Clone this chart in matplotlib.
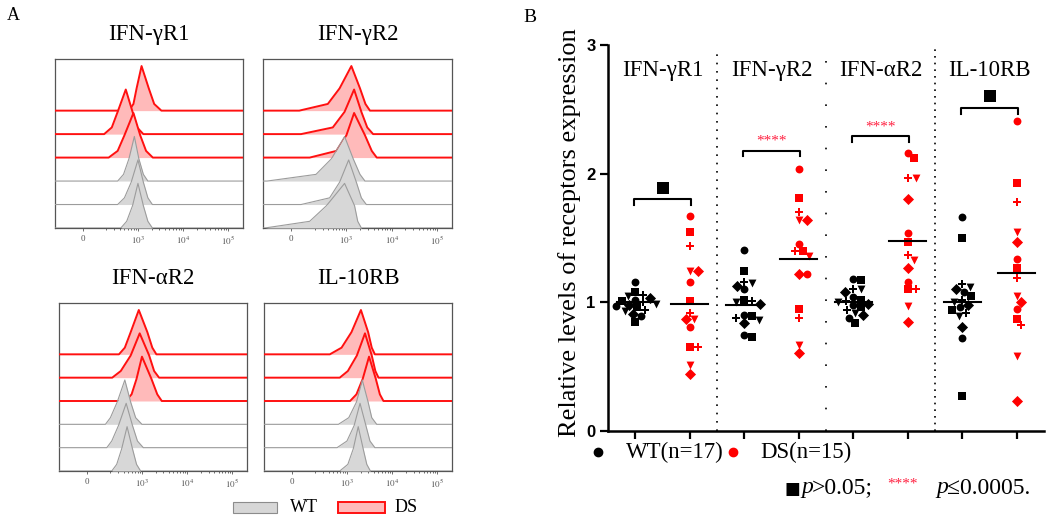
import numpy as np
import matplotlib.pyplot as plt
from matplotlib.patches import Rectangle

plt.rcParams['font.family'] = ['Liberation Serif', 'DejaVu Serif']
plt.rcParams['mathtext.fontset'] = 'stix'

# ---------------- panel A : stacked flow histograms ----------------
hist_titles = ['IFN-γR1', 'IFN-γR2', 'IFN-αR2', 'IL-10RB']
# knot heights (fraction of mode) shared by every curve
knot_h = [0, 0.15, 0.5, 1.0, 0.5, 0.15, 0]
# knot positions in decades, curves listed bottom -> top (WT, WT, WT, DS, DS, DS)
knots_gr1 = [[2.62, 2.75, 2.88, 3.00, 3.12, 3.22, 3.32],
             [2.55, 2.70, 2.85, 3.00, 3.12, 3.22, 3.32],
             [2.55, 2.68, 2.80, 2.92, 3.02, 3.12, 3.22],
             [2.35, 2.55, 2.70, 2.90, 3.05, 3.18, 3.33],
             [2.25, 2.42, 2.55, 2.73, 2.88, 2.98, 3.12],
             [2.80, 2.90, 2.97, 3.08, 3.24, 3.36, 3.52]]
knots_gr2 = [[1.20, 2.19, 2.56, 2.96, 3.18, 3.25, 3.33],
             [2.00, 2.63, 2.85, 3.05, 3.22, 3.33, 3.44],
             [1.25, 2.33, 2.67, 2.96, 3.15, 3.30, 3.41],
             [2.19, 2.78, 3.00, 3.17, 3.41, 3.56, 3.67],
             [2.00, 2.70, 2.96, 3.17, 3.33, 3.46, 3.59],
             [1.96, 2.59, 2.85, 3.11, 3.30, 3.42, 3.52]]
knots_ar2 = [[2.33, 2.44, 2.55, 2.67, 2.79, 2.88, 2.97],
             [2.22, 2.33, 2.48, 2.65, 2.79, 2.90, 3.03],
             [2.19, 2.30, 2.45, 2.62, 2.75, 2.86, 3.00],
             [2.64, 2.77, 2.88, 3.00, 3.21, 3.34, 3.44],
             [2.34, 2.53, 2.75, 2.95, 3.16, 3.27, 3.38],
             [2.49, 2.62, 2.75, 2.93, 3.12, 3.23, 3.32]]
knots_10rb = [[2.84, 3.02, 3.14, 3.25, 3.36, 3.44, 3.52],
              [2.78, 3.00, 3.16, 3.29, 3.42, 3.51, 3.62],
              [2.81, 3.04, 3.21, 3.34, 3.47, 3.55, 3.66],
              [3.07, 3.21, 3.35, 3.49, 3.64, 3.73, 3.81],
              [2.84, 3.02, 3.22, 3.40, 3.55, 3.63, 3.70],
              [2.62, 2.88, 3.10, 3.31, 3.47, 3.55, 3.62]]
hist_knots = [knots_gr1, knots_gr2, knots_ar2, knots_10rb]
hist_groups = ['WT', 'WT', 'WT', 'DS', 'DS', 'DS']
hist_ticks = [1.78, 3, 4, 5]
hist_ticklabels = ['0', '$10^3$', '$10^4$', '$10^5$']

# ---------------- panel B : relative receptor levels ----------------
groups = ['IFN-γR1', 'IFN-γR2', 'IFN-αR2', 'IL-10RB']
wt_r1 = [1.16, 1.08, 1.06, 1.05, 1.03, 1.02, 1.01, 1.0, 0.99, 0.98, 0.97, 0.96, 0.94, 0.93, 0.91, 0.89, 0.85]
ds_r1 = [1.67, 1.55, 1.44, 1.24, 1.24, 1.16, 1.01, 0.92, 0.87, 0.87, 0.81, 0.65, 0.65, 0.51, 0.44]
wt_r2 = [1.41, 1.24, 1.16, 1.15, 1.13, 1.10, 1.02, 1.01, 1.0, 0.99, 0.90, 0.89, 0.88, 0.86, 0.84, 0.75, 0.73]
ds_r2 = [2.04, 1.81, 1.70, 1.64, 1.64, 1.45, 1.40, 1.40, 1.36, 1.22, 1.22, 0.95, 0.88, 0.67, 0.61]
wt_ar2 = [1.18, 1.17, 1.10, 1.10, 1.08, 1.04, 1.02, 1.01, 1.0, 0.99, 0.98, 0.96, 0.94, 0.92, 0.90, 0.88, 0.84]
ds_ar2 = [2.16, 2.12, 1.97, 1.97, 1.80, 1.54, 1.47, 1.37, 1.33, 1.27, 1.16, 1.10, 1.10, 0.97, 0.85]
wt_10 = [1.66, 1.50, 1.14, 1.12, 1.10, 1.08, 1.05, 1.02, 1.0, 0.98, 0.96, 0.94, 0.92, 0.89, 0.81, 0.72, 0.27]
ds_10 = [2.41, 1.93, 1.78, 1.55, 1.47, 1.34, 1.27, 1.19, 1.05, 1.0, 0.95, 0.87, 0.82, 0.58, 0.23]
series = [wt_r1, ds_r1, wt_r2, ds_r2, wt_ar2, ds_ar2, wt_10, ds_10]
medians = [1.0, 0.99, 0.98, 1.34, 1.0, 1.48, 1.0, 1.23]
signif = ['ns', '****', '****', 'ns']


def fx(px):
    return px / 1050.0


def fy(py):
    return 1 - py / 520.0


def swarm(vals, gap=7.5, ppx=54.5, ppy=128.7):
    # simple beeswarm: push each point sideways until it does not overlap
    done, offs = [], []
    for v in vals:
        y = v * ppy
        for k in range(200):
            dx = ((k + 1) // 2) * (1 if k % 2 else -1) * 1.0
            if all((dx - a) ** 2 + (y - b) ** 2 >= gap ** 2 for a, b in done):
                break
        done.append((dx, y))
        offs.append(dx / ppx)
    return np.array(offs)


fig = plt.figure(figsize=(10.5, 5.2), dpi=100)

# panel A axes: [left, top, right, bottom] in px
boxes = [(55, 59, 243, 228), (263, 59, 452, 228), (59, 303, 247, 471), (264, 303, 452, 471)]
xmin, xmax = 1.16, 5.33
peak = 1.9
for b, title, knots in zip(boxes, hist_titles, hist_knots):
    ax = fig.add_axes([fx(b[0]), fy(b[3]), fx(b[2] - b[0]), (b[3] - b[1]) / 520.0])
    for i, (kn, g) in enumerate(zip(knots, hist_groups)):
        xs = [xmin] + kn + [xmax]
        ys = np.array([0] + knot_h + [0]) * peak + i
        if g == 'WT':
            fc, ec, lw = '#d7d7d7', '#9c9c9c', 0.8
        else:
            fc, ec, lw = '#ffbaba', '#ff1010', 1.4
        ax.fill_between(xs, i, ys, color=fc, lw=0, zorder=10 - i)
        ax.plot(xs, ys, color=ec, lw=lw, zorder=10.5 - i)
    ax.set_xlim(xmin, xmax)
    ax.set_ylim(0, 7.2)
    ax.set_yticks([])
    ax.set_xticks(hist_ticks)
    ax.set_xticklabels(hist_ticklabels, fontsize=6.5, color='#555555')
    minor = [np.log10(k) + d for d in (2, 3, 4) for k in range(2, 10)]
    ax.set_xticks([m for m in minor if 2.2 < m < xmax], minor=True)
    ax.tick_params(axis='x', which='both', direction='out', length=2, width=0.6,
                   colors='#555555', pad=3)
    ax.tick_params(axis='x', which='minor', length=1.5)
    for s in ax.spines.values():
        s.set_color('#555555')
        s.set_linewidth(0.9)
    ax.set_title(title, fontsize=16.5, pad=14)

# legend for A
fig.add_artist(Rectangle((fx(233), fy(513)), fx(44), 11 / 520.0, transform=fig.transFigure,
                         facecolor='#d7d7d7', edgecolor='#8c8c8c', lw=0.8))
fig.text(fx(290), fy(507), 'WT', fontsize=13, va='center')
fig.add_artist(Rectangle((fx(338), fy(513)), fx(47), 11 / 520.0, transform=fig.transFigure,
                         facecolor='#ffbaba', edgecolor='#ff1010', lw=1.4))
fig.text(fx(395), fy(507), 'DS', fontsize=13, va='center')

fig.text(fx(7), fy(16), 'A', fontsize=13, va='center')
fig.text(fx(523), fy(18), 'B', fontsize=14, va='center')

# ---------------- panel B ----------------
axb = fig.add_axes([fx(608), fy(431), fx(436), 386 / 520.0])
pos = np.arange(1, 9)
mk_cycle = ['o', 's', 'P', 'v', 'D']
for p, vals, med in zip(pos, series, medians):
    col = 'black' if p % 2 else '#ff0000'
    offs = swarm(vals)
    for j, (o, v) in enumerate(zip(offs, vals)):
        axb.scatter(p + o, v, s=32, marker=mk_cycle[j % 5], color=col, lw=0, zorder=3)
    axb.plot([p - 0.34, p + 0.34], [med, med], color='black', lw=1.5, zorder=4)

bracket_y = [1.80, 2.18, 2.29, 2.51]
for k, (g, sg, by) in enumerate(zip(groups, signif, bracket_y)):
    a, c = pos[2 * k] - 0.03, pos[2 * k + 1] + 0.03
    axb.plot([a, a, c, c], [by - 0.045, by, by, by - 0.045], color='black', lw=1.5)
    mid = (pos[2 * k] + pos[2 * k + 1]) / 2
    if sg == 'ns':
        axb.scatter(mid, by + 0.09, marker='s', s=70, color='black', lw=0)
    else:
        axb.text(mid, by + 0.07, sg, color='#ff2040', fontsize=11, ha='center', va='center')
    axb.text(mid, 2.80, g, fontsize=16.5, ha='center', va='center')

for xsep, pat in zip([2.5, 4.5, 6.5], [(0, (1, 4)), (0, (1, 12)), (0, (1, 3))]):
    axb.plot([xsep, xsep], [0, 2.98], color='black', lw=1.2, linestyle=pat)

axb.set_xlim(0.5, 8.5)
axb.set_ylim(0, 3)
axb.set_xticks(pos)
axb.set_xticklabels([])
axb.set_yticks([0, 1, 2, 3])
axb.set_yticklabels(['0', '1', '2', '3'], family='Liberation Sans', fontweight='bold', fontsize=12)
axb.tick_params(axis='both', direction='out', length=6, width=1.6, pad=3)
for s in ['top', 'right']:
    axb.spines[s].set_visible(False)
for s in ['left', 'bottom']:
    axb.spines[s].set_linewidth(1.8)

fig.text(fx(570), fy(233), 'Relative levels of receptors expression', rotation=90,
         fontsize=19, ha='center', va='center')

# legend under panel B
axb.scatter([-0.023], [-0.054], transform=axb.transAxes, s=36, color='black', clip_on=False)
fig.text(fx(626), fy(452), 'WT(n=17)', fontsize=16.5, va='center')
axb.scatter([0.287], [-0.054], transform=axb.transAxes, s=36, color='#ff0000', clip_on=False)
fig.text(fx(760), fy(452), 'DS(n=15)', fontsize=16.5, va='center')

# footnote
fig.text(fx(785), fy(489), '■', fontsize=12, va='center', family=['DejaVu Sans'])
fig.text(fx(801), fy(488), 'p', fontsize=17, va='center', style='italic')
fig.text(fx(812), fy(488), '>0.05;', fontsize=17, va='center')
fig.text(fx(887), fy(484), '****', fontsize=11, va='center', color='#ff2040')
fig.text(fx(936), fy(488), 'p', fontsize=17, va='center', style='italic')
fig.text(fx(947), fy(488), '≤0.0005.', fontsize=17, va='center')

fig.savefig('out.png', dpi=100)
